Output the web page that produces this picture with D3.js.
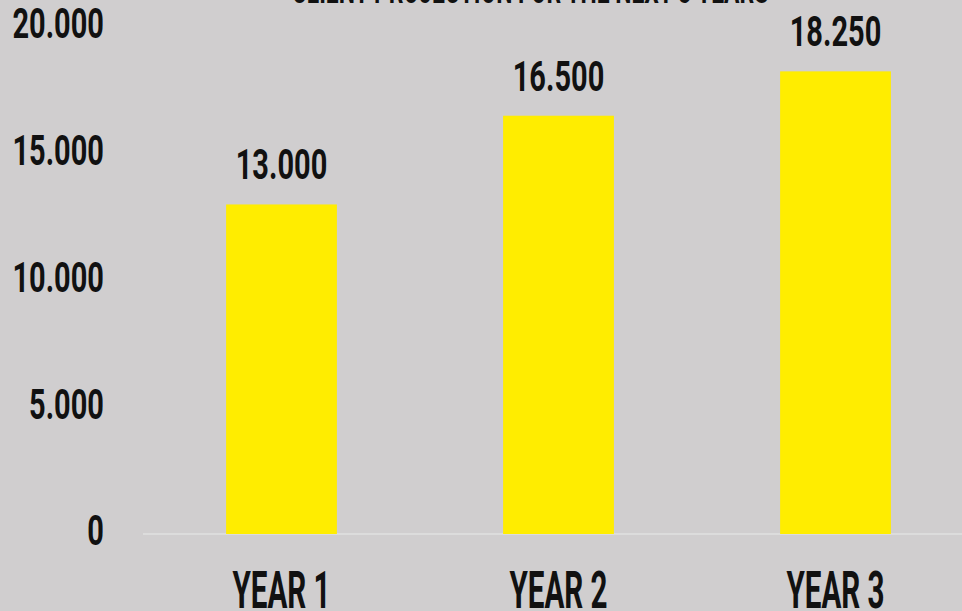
<!DOCTYPE html>
<html>
<head>
<meta charset="utf-8">
<script src="https://cdn.jsdelivr.net/npm/d3@7"></script>
<style>
  html, body { margin: 0; padding: 0; background: #d0cecf; }
  svg { display: block; }
  text { font-family: Roboto, "Liberation Sans", sans-serif; font-weight: 700; fill: #111; }
</style>
</head>
<body>
<svg id="chart" width="962" height="611"></svg>
<script>
// Client projection data
const years = ["YEAR 1", "YEAR 2", "YEAR 3"];
const clients = [13000, 16500, 18250];
const yTicks = [0, 5000, 10000, 15000, 20000];
const title = "CLIENT PROJECTION FOR THE NEXT 3 YEARS";

const W = 962, H = 611;
const svg = d3.select("#chart");

// horizontal condensing applied to the bold face
const numSqueeze = 0.69;
const catSqueeze = 0.58;
const titleSqueeze = 0.655;

const x = d3.scaleBand().domain(years).range([143, 974]).paddingInner(0.6).paddingOuter(0.3);
const y = d3.scaleLinear().domain([0, 20000]).range([534, 27]);

const fmt = v => d3.format(",")(v).replace(/,/g, ".");

// Title (mostly above the visible area)
svg.append("text")
  .attr("transform", `translate(530,3) scale(${titleSqueeze},1)`)
  .attr("text-anchor", "middle")
  .style("font-size", "35px")
  .text(title);

// Y axis labels
const yAxis = svg.append("g")
  .attr("transform", "translate(104,0)")
  .call(d3.axisLeft(y).tickValues(yTicks).tickSize(0).tickPadding(0).tickFormat(fmt));
yAxis.select(".domain").remove();
yAxis.selectAll("text")
  .attr("x", 0)
  .attr("dy", "0.355em")
  .attr("transform", `translate(0,-4) scale(${numSqueeze},1)`)
  .style("font-size", "42px")
  .style("font-family", null)
  .attr("fill", "#111");

// Baseline
svg.append("line")
  .attr("x1", 143).attr("x2", W)
  .attr("y1", y(0)).attr("y2", y(0))
  .attr("stroke", "#dcdcdc").attr("stroke-width", 2);

// Bars
svg.selectAll("rect.bar")
  .data(clients)
  .join("rect")
  .attr("class", "bar")
  .attr("x", (d, i) => x(years[i]))
  .attr("width", x.bandwidth())
  .attr("y", d => y(d))
  .attr("height", d => y(0) - y(d))
  .attr("fill", "#ffed00");

// Value labels
svg.selectAll("text.val")
  .data(clients)
  .join("text")
  .attr("class", "val")
  .attr("text-anchor", "middle")
  .attr("dy", "0.355em")
  .attr("transform", (d, i) => `translate(${x(years[i]) + x.bandwidth() / 2},${y(d) - 40}) scale(${numSqueeze},1)`)
  .style("font-size", "42px")
  .text(d => fmt(d));

// X axis labels
const xAxis = svg.append("g")
  .attr("transform", `translate(0,${y(0)})`)
  .call(d3.axisBottom(x).tickSize(0).tickPadding(0));
xAxis.select(".domain").remove();
xAxis.selectAll("text")
  .attr("y", 0)
  .attr("dy", 0)
  .attr("transform", `translate(0,74) scale(${catSqueeze},1)`)
  .style("font-size", "51px")
  .style("font-family", null)
  .attr("fill", "#111");
</script>
</body>
</html>
